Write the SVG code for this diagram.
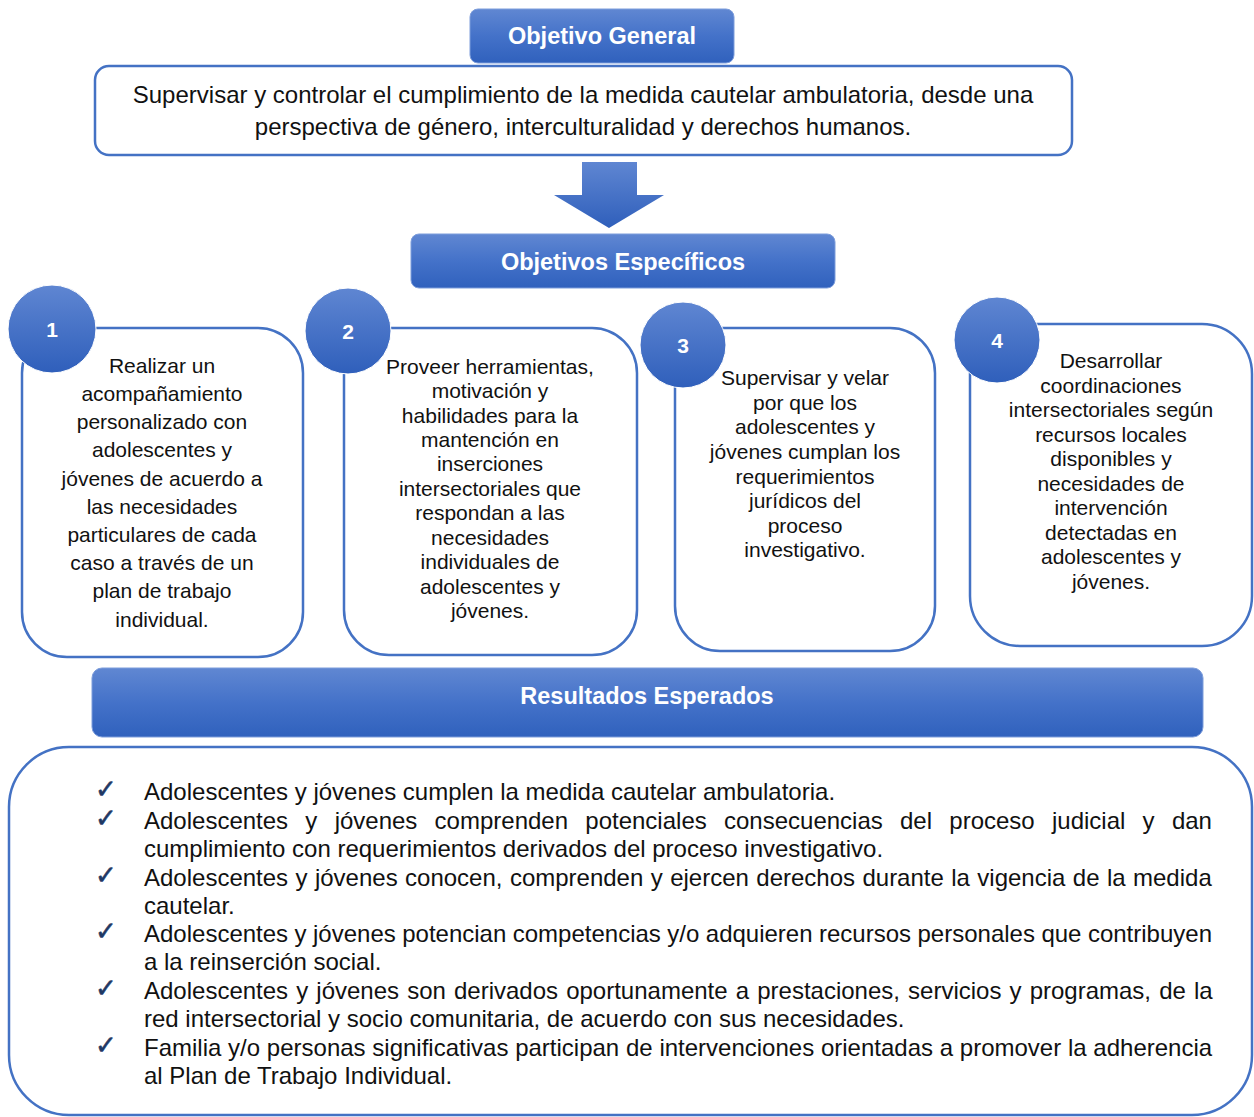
<svg xmlns="http://www.w3.org/2000/svg" width="1254" height="1117" viewBox="0 0 1254 1117">
<defs>
<linearGradient id="gb" x1="0" y1="0" x2="0" y2="1">
<stop offset="0" stop-color="#6087d2"/>
<stop offset="0.5" stop-color="#4472c9"/>
<stop offset="1" stop-color="#3061bd"/>
</linearGradient>
<linearGradient id="gc" x1="0" y1="0" x2="0" y2="1">
<stop offset="0" stop-color="#5f86d2"/>
<stop offset="1" stop-color="#2f5fbb"/>
</linearGradient>
<style>
.hdr{fill:url(#gb);stroke:#7d9ddb;stroke-width:1}
.ht{font-family:"Liberation Sans",Arial,sans-serif;font-weight:bold;font-size:23.5px;fill:#ffffff;text-anchor:middle}
.card{fill:#ffffff;stroke:#4472c4;stroke-width:2.5}
.circ{fill:url(#gc);stroke:#ffffff;stroke-width:1}
.num{font-family:"Liberation Sans",Arial,sans-serif;font-weight:bold;font-size:21px;fill:#ffffff;text-anchor:middle}
.ct{font-family:"Liberation Sans",Arial,sans-serif;font-size:21px;fill:#111111;text-anchor:middle}
.gt{font-family:"Liberation Sans",Arial,sans-serif;font-size:24px;fill:#111111;text-anchor:middle}
.rt{font-family:"Liberation Sans",Arial,sans-serif;font-size:24px;fill:#111111}
.ck{font-family:"DejaVu Sans",sans-serif;font-size:26px;fill:#1f3864;stroke:#1f3864;stroke-width:0.6}
</style>
</defs>
<rect width="1254" height="1117" fill="#ffffff"/>

<g id="objetivo-general">
<rect class="hdr" x="470" y="9" width="264" height="54" rx="8"/>
<text class="ht" x="602" y="44">Objetivo General</text>
</g>

<g id="general-texto">
<rect class="card" x="95" y="66" width="977" height="89" rx="14"/>
<text class="gt" x="583" y="103">Supervisar y controlar el cumplimiento de la medida cautelar ambulatoria, desde una</text>
<text class="gt" x="583" y="135">perspectiva de género, interculturalidad y derechos humanos.</text>
</g>

<g id="connectors">
<polygon points="582,162 637,162 637,195 664,195 609,228 554,195 582,195" fill="url(#gc)"/>
</g>

<g id="objetivos-especificos">
<rect class="hdr" x="411" y="234" width="424" height="54" rx="8"/>
<text class="ht" x="623" y="270">Objetivos Específicos</text>
</g>

<g id="card-1">
<rect class="card" x="22" y="328" width="281" height="329" rx="45"/>
<circle class="circ" cx="52" cy="329" r="44"/>
<text class="num" x="52" y="337">1</text>
<text class="ct" x="162" y="373">Realizar un</text>
<text class="ct" x="162" y="401">acompañamiento</text>
<text class="ct" x="162" y="429">personalizado con</text>
<text class="ct" x="162" y="457">adolescentes y</text>
<text class="ct" x="162" y="486">jóvenes de acuerdo a</text>
<text class="ct" x="162" y="514">las necesidades</text>
<text class="ct" x="162" y="542">particulares de cada</text>
<text class="ct" x="162" y="570">caso a través de un</text>
<text class="ct" x="162" y="598">plan de trabajo</text>
<text class="ct" x="162" y="627">individual.</text>
</g>

<g id="card-2">
<rect class="card" x="344" y="328" width="293" height="327" rx="45"/>
<circle class="circ" cx="348" cy="331" r="43"/>
<text class="num" x="348" y="339">2</text>
<text class="ct" x="490" y="374">Proveer herramientas,</text>
<text class="ct" x="490" y="398">motivación y</text>
<text class="ct" x="490" y="423">habilidades para la</text>
<text class="ct" x="490" y="447">mantención  en</text>
<text class="ct" x="490" y="471">inserciones</text>
<text class="ct" x="490" y="496">intersectoriales que</text>
<text class="ct" x="490" y="520">respondan a las</text>
<text class="ct" x="490" y="545">necesidades</text>
<text class="ct" x="490" y="569">individuales de</text>
<text class="ct" x="490" y="594">adolescentes y</text>
<text class="ct" x="490" y="618">jóvenes.</text>
</g>

<g id="card-3">
<rect class="card" x="675" y="328" width="260" height="323" rx="45"/>
<circle class="circ" cx="683" cy="345" r="43"/>
<text class="num" x="683" y="353">3</text>
<text class="ct" x="805" y="385">Supervisar y velar</text>
<text class="ct" x="805" y="410">por que los</text>
<text class="ct" x="805" y="434">adolescentes y</text>
<text class="ct" x="805" y="459">jóvenes cumplan los</text>
<text class="ct" x="805" y="484">requerimientos</text>
<text class="ct" x="805" y="508">jurídicos del</text>
<text class="ct" x="805" y="533">proceso</text>
<text class="ct" x="805" y="557">investigativo.</text>
</g>

<g id="card-4">
<rect class="card" x="970" y="324" width="282" height="322" rx="50"/>
<circle class="circ" cx="997" cy="340" r="43"/>
<text class="num" x="997" y="348">4</text>
<text class="ct" x="1111" y="368">Desarrollar</text>
<text class="ct" x="1111" y="393">coordinaciones</text>
<text class="ct" x="1111" y="417">intersectoriales según</text>
<text class="ct" x="1111" y="442">recursos locales</text>
<text class="ct" x="1111" y="466">disponibles y</text>
<text class="ct" x="1111" y="491">necesidades de</text>
<text class="ct" x="1111" y="515">intervención</text>
<text class="ct" x="1111" y="540">detectadas en</text>
<text class="ct" x="1111" y="564">adolescentes y</text>
<text class="ct" x="1111" y="589">jóvenes.</text>
</g>

<g id="resultados-esperados">
<rect class="hdr" x="92" y="668" width="1111" height="69" rx="10"/>
<text class="ht" x="647" y="704">Resultados Esperados</text>
</g>

<g id="resultados-lista">
<rect class="card" x="9" y="747" width="1243" height="368" rx="60"/>
<text class="ck" x="95" y="798">✓</text>
<text class="ck" x="95" y="827">✓</text>
<text class="ck" x="95" y="884">✓</text>
<text class="ck" x="95" y="940">✓</text>
<text class="ck" x="95" y="997">✓</text>
<text class="ck" x="95" y="1054">✓</text>
<text class="rt" x="144" y="800">Adolescentes y jóvenes cumplen la medida cautelar ambulatoria.</text>
<text class="rt" x="144" y="829" word-spacing="10.6">Adolescentes y jóvenes comprenden potenciales consecuencias del proceso judicial y dan</text>
<text class="rt" x="144" y="857">cumplimiento con requerimientos derivados del proceso investigativo.</text>
<text class="rt" x="144" y="886" word-spacing="0.75">Adolescentes y jóvenes conocen, comprenden y ejercen derechos durante la vigencia de la medida</text>
<text class="rt" x="144" y="914">cautelar.</text>
<text class="rt" x="144" y="942" word-spacing="-0.2">Adolescentes y jóvenes potencian competencias y/o adquieren recursos personales que contribuyen</text>
<text class="rt" x="144" y="970">a la reinserción social.</text>
<text class="rt" x="144" y="999" word-spacing="1.45">Adolescentes y jóvenes son derivados oportunamente a prestaciones, servicios y programas, de la</text>
<text class="rt" x="144" y="1027">red intersectorial y socio comunitaria, de acuerdo con sus necesidades.</text>
<text class="rt" x="144" y="1056" word-spacing="0.08">Familia y/o personas significativas participan de intervenciones orientadas a promover la adherencia</text>
<text class="rt" x="144" y="1084">al Plan de Trabajo Individual.</text>
</g>
</svg>
